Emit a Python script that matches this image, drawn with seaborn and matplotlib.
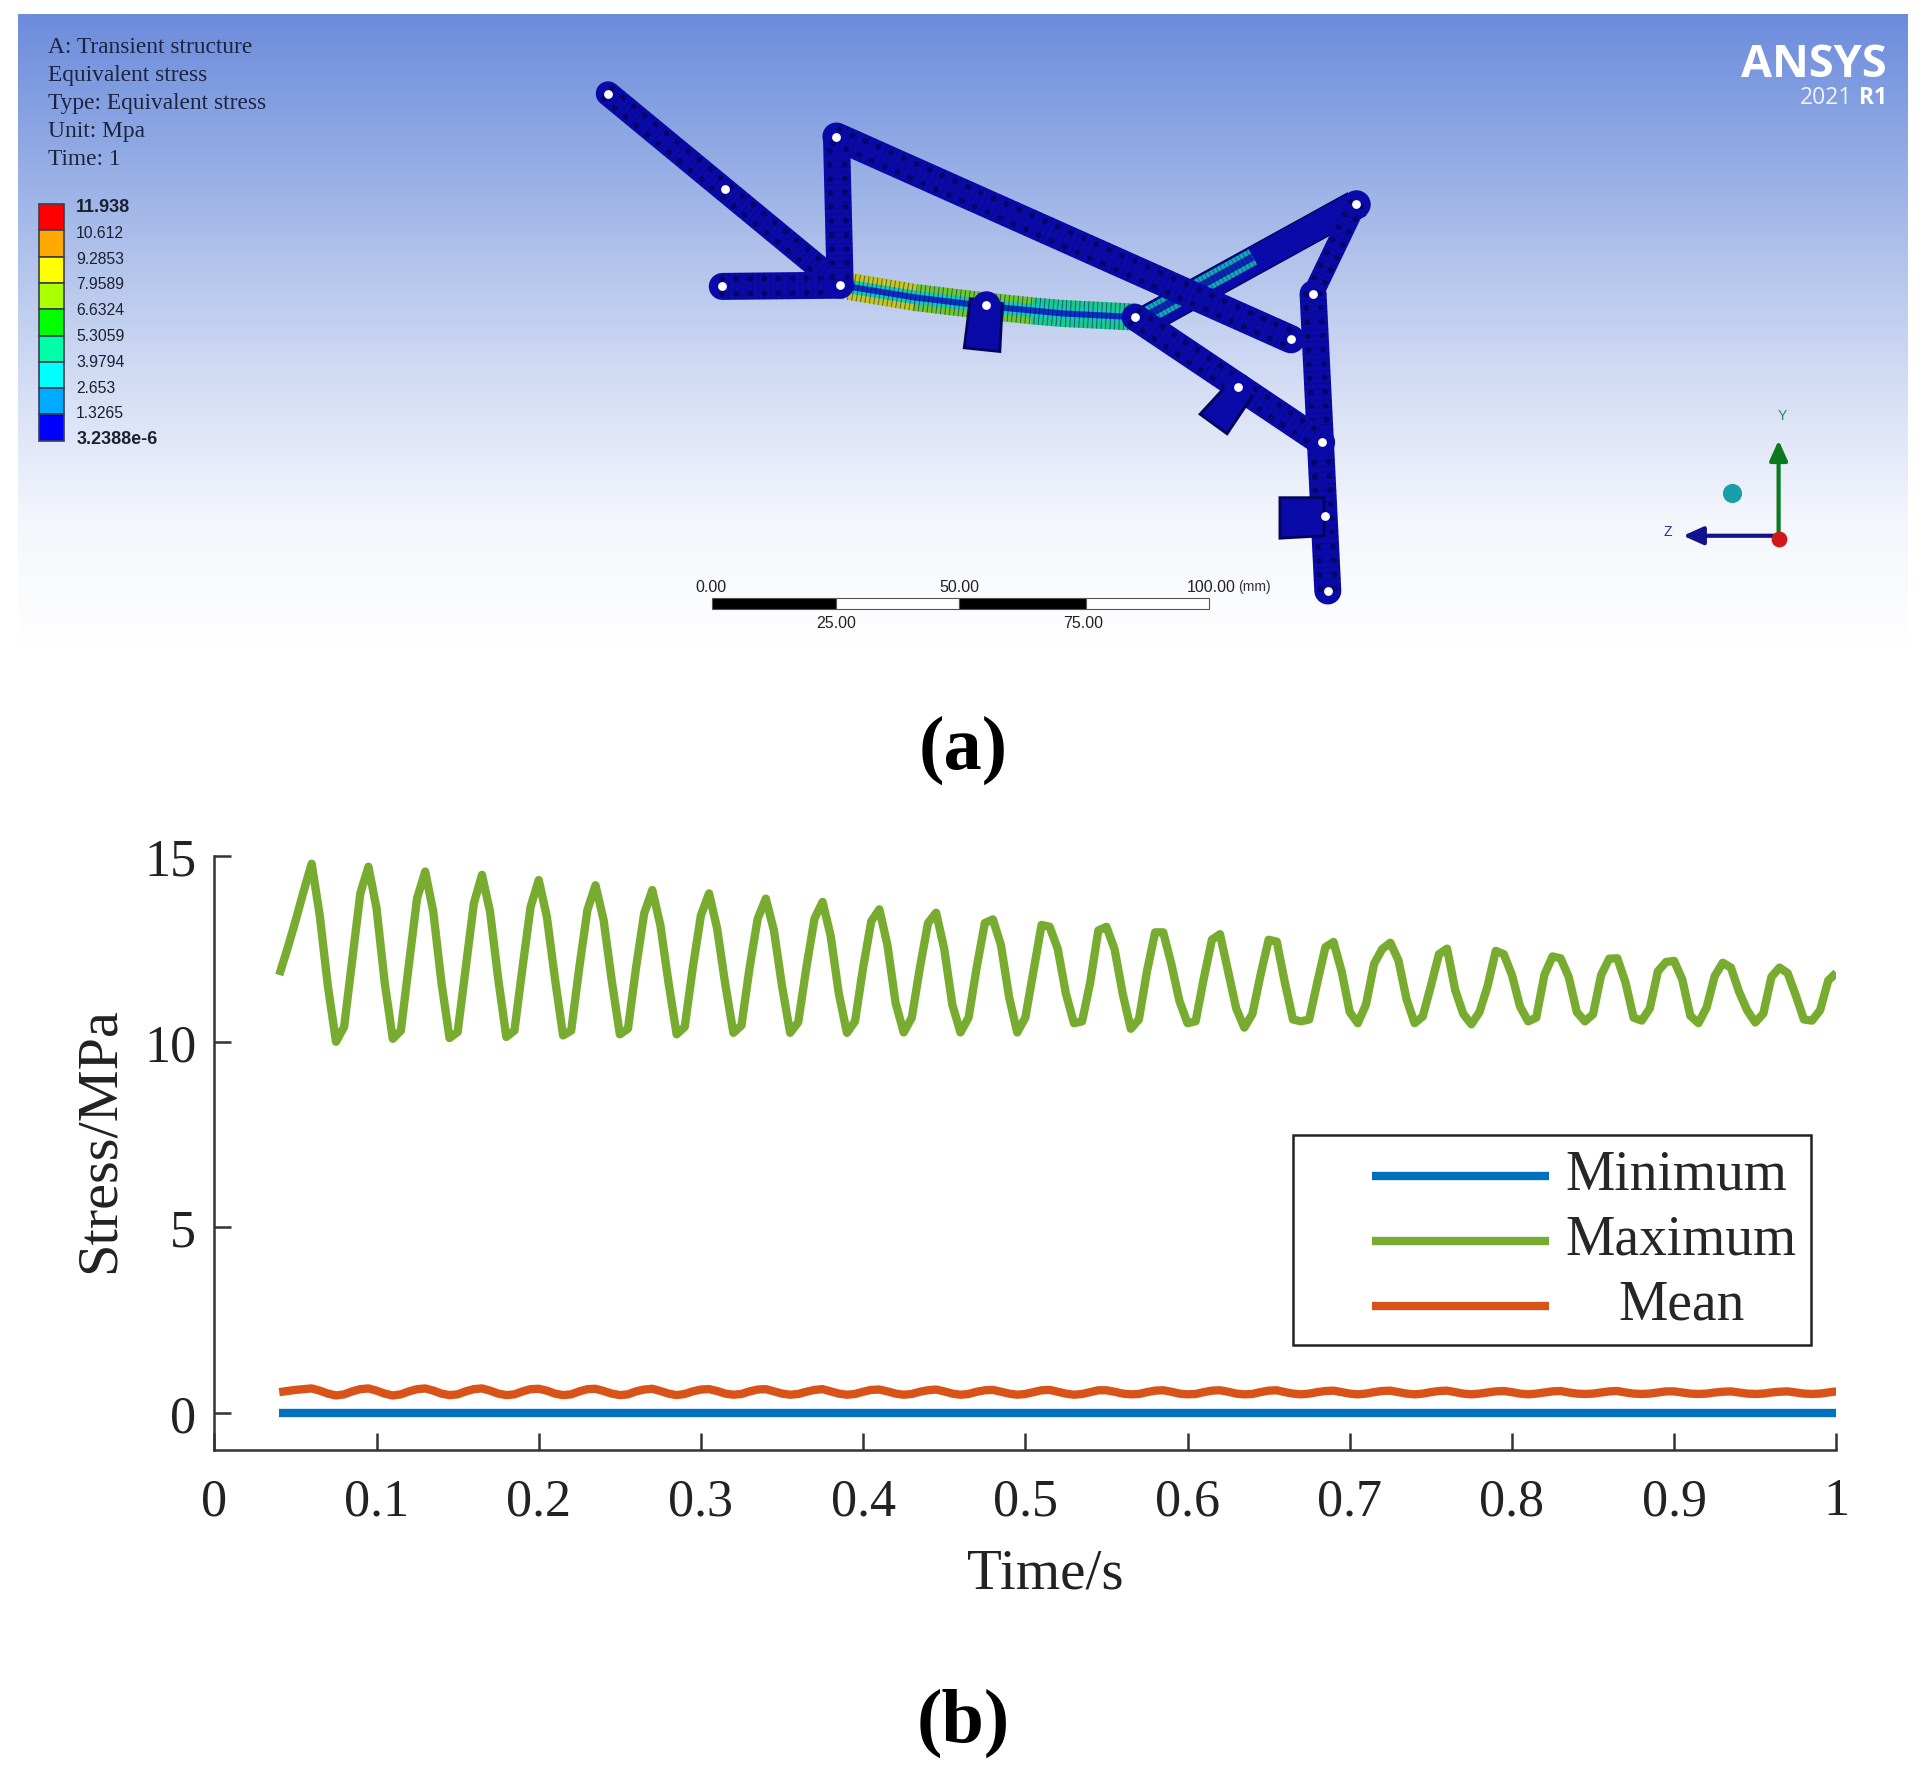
# -*- coding: utf-8 -*-
"""
Stress results: ANSYS contour view (a) and stress against time (b)
"""
import matplotlib
matplotlib.use("Agg")
import numpy as np
import pandas as pd
import seaborn as sns
import matplotlib.pyplot as plt
from matplotlib.colors import LinearSegmentedColormap
from matplotlib.legend_handler import HandlerLine2D
from matplotlib.lines import Line2D
from matplotlib.patches import Polygon, Rectangle

# ---- panel (b) data
time_s = [0.04, 0.045, 0.05, 0.055,
          0.06, 0.065, 0.07, 0.075, 0.08, 0.085, 0.09,
          0.095, 0.1, 0.105, 0.11, 0.115, 0.12, 0.125,
          0.13, 0.135, 0.14, 0.145, 0.15, 0.155, 0.16,
          0.165, 0.17, 0.175, 0.18, 0.185, 0.19, 0.195,
          0.2, 0.205, 0.21, 0.215, 0.22, 0.225, 0.23,
          0.235, 0.24, 0.245, 0.25, 0.255, 0.26, 0.265,
          0.27, 0.275, 0.28, 0.285, 0.29, 0.295, 0.3,
          0.305, 0.31, 0.315, 0.32, 0.325, 0.33, 0.335,
          0.34, 0.345, 0.35, 0.355, 0.36, 0.365, 0.37,
          0.375, 0.38, 0.385, 0.39, 0.395, 0.4, 0.405,
          0.41, 0.415, 0.42, 0.425, 0.43, 0.435, 0.44,
          0.445, 0.45, 0.455, 0.46, 0.465, 0.47, 0.475,
          0.48, 0.485, 0.49, 0.495, 0.5, 0.505, 0.51,
          0.515, 0.52, 0.525, 0.53, 0.535, 0.54, 0.545,
          0.55, 0.555, 0.56, 0.565, 0.57, 0.575, 0.58,
          0.585, 0.59, 0.595, 0.6, 0.605, 0.61, 0.615,
          0.62, 0.625, 0.63, 0.635, 0.64, 0.645, 0.65,
          0.655, 0.66, 0.665, 0.67, 0.675, 0.68, 0.685,
          0.69, 0.695, 0.7, 0.705, 0.71, 0.715, 0.72,
          0.725, 0.73, 0.735, 0.74, 0.745, 0.75, 0.755,
          0.76, 0.765, 0.77, 0.775, 0.78, 0.785, 0.79,
          0.795, 0.8, 0.805, 0.81, 0.815, 0.82, 0.825,
          0.83, 0.835, 0.84, 0.845, 0.85, 0.855, 0.86,
          0.865, 0.87, 0.875, 0.88, 0.885, 0.89, 0.895,
          0.9, 0.905, 0.91, 0.915, 0.92, 0.925, 0.93,
          0.935, 0.94, 0.945, 0.95, 0.955, 0.96, 0.965,
          0.97, 0.975, 0.98, 0.985, 0.99, 0.995, 1.0]

max_stress = [11.80, 12.50, 13.25, 14.05,
              14.80, 13.40, 11.50, 10.00, 10.40, 12.20, 14.00,
              14.72, 13.60, 11.60, 10.08, 10.30, 12.10, 13.87,
              14.59, 13.50, 11.60, 10.10, 10.26, 12.00, 13.73,
              14.50, 13.50, 11.70, 10.13, 10.30, 12.00, 13.64,
              14.36, 13.37, 11.70, 10.17, 10.30, 12.00, 13.55,
              14.22, 13.28, 11.65, 10.20, 10.35, 12.00, 13.46,
              14.09, 13.14, 11.60, 10.20, 10.40, 12.00, 13.41,
              14.00, 13.05, 11.55, 10.24, 10.44, 12.00, 13.32,
              13.86, 13.00, 11.50, 10.24, 10.53, 12.00, 13.32,
              13.77, 12.85, 11.30, 10.24, 10.55, 12.00, 13.25,
              13.57, 12.60, 11.05, 10.25, 10.65, 12.00, 13.20,
              13.48, 12.50, 11.00, 10.25, 10.65, 12.00, 13.20,
              13.30, 12.60, 11.20, 10.25, 10.65, 11.90, 13.15,
              13.10, 12.50, 11.30, 10.50, 10.55, 11.60, 13.00,
              13.10, 12.50, 11.30, 10.35, 10.60, 11.90, 12.95,
              12.95, 12.10, 11.10, 10.50, 10.55, 11.70, 12.75,
              12.90, 11.90, 10.90, 10.38, 10.75, 11.80, 12.75,
              12.70, 11.60, 10.60, 10.55, 10.60, 11.60, 12.55,
              12.69, 11.90, 10.80, 10.50, 11.00, 12.10, 12.50,
              12.67, 12.20, 11.15, 10.50, 10.68, 11.50, 12.36,
              12.51, 11.40, 10.75, 10.47, 10.80, 11.50, 12.45,
              12.36, 11.80, 10.95, 10.55, 10.65, 11.80, 12.30,
              12.25, 11.75, 10.80, 10.55, 10.74, 11.80, 12.24,
              12.25, 11.60, 10.65, 10.57, 10.90, 11.90, 12.15,
              12.18, 11.68, 10.70, 10.50, 10.92, 11.77, 12.13,
              12.00, 11.35, 10.85, 10.52, 10.76, 11.75, 12.00,
              11.85, 11.25, 10.60, 10.57, 10.85, 11.65, 11.86]

mean_stress = [0.55, 0.58, 0.61, 0.63,
               0.65, 0.59, 0.51, 0.46, 0.49, 0.57, 0.63,
               0.65, 0.59, 0.51, 0.46, 0.49, 0.57, 0.63,
               0.65, 0.59, 0.51, 0.47, 0.49, 0.57, 0.63,
               0.65, 0.59, 0.51, 0.47, 0.49, 0.57, 0.63,
               0.64, 0.59, 0.51, 0.47, 0.49, 0.57, 0.63,
               0.64, 0.58, 0.51, 0.47, 0.49, 0.57, 0.62,
               0.64, 0.58, 0.51, 0.47, 0.50, 0.57, 0.62,
               0.63, 0.58, 0.51, 0.48, 0.50, 0.57, 0.62,
               0.63, 0.57, 0.51, 0.48, 0.50, 0.56, 0.61,
               0.63, 0.57, 0.51, 0.48, 0.50, 0.56, 0.61,
               0.62, 0.57, 0.51, 0.48, 0.50, 0.56, 0.60,
               0.62, 0.57, 0.51, 0.48, 0.50, 0.56, 0.60,
               0.61, 0.56, 0.51, 0.48, 0.50, 0.55, 0.60,
               0.61, 0.56, 0.51, 0.48, 0.50, 0.55, 0.60,
               0.60, 0.56, 0.51, 0.49, 0.50, 0.55, 0.59,
               0.60, 0.56, 0.51, 0.49, 0.50, 0.55, 0.59,
               0.60, 0.56, 0.51, 0.49, 0.50, 0.55, 0.59,
               0.60, 0.55, 0.51, 0.49, 0.51, 0.55, 0.58,
               0.59, 0.55, 0.51, 0.49, 0.51, 0.55, 0.58,
               0.59, 0.55, 0.51, 0.49, 0.51, 0.55, 0.58,
               0.59, 0.55, 0.51, 0.49, 0.51, 0.54, 0.57,
               0.58, 0.55, 0.51, 0.49, 0.51, 0.54, 0.57,
               0.58, 0.54, 0.51, 0.50, 0.51, 0.54, 0.57,
               0.58, 0.54, 0.51, 0.50, 0.51, 0.54, 0.57,
               0.57, 0.54, 0.51, 0.50, 0.51, 0.54, 0.56,
               0.57, 0.54, 0.51, 0.50, 0.51, 0.54, 0.56,
               0.57, 0.54, 0.51, 0.50, 0.51, 0.54, 0.57]

min_time = [0.04, 1.0]
min_stress = [0.0, 0.0]

x_ticks = [0, 0.1, 0.2, 0.3, 0.4, 0.5, 0.6, 0.7, 0.8, 0.9, 1]
x_tick_labels = ["0", "0.1", "0.2", "0.3", "0.4", "0.5", "0.6", "0.7", "0.8", "0.9", "1"]
y_ticks = [0, 5, 10, 15]
series_names = ["Minimum", "Maximum", "Mean"]
series_colors = ["#0072BD", "#77AC30", "#D95319"]

# ---- panel (a) content
info_lines = ["A: Transient structure", "Equivalent stress", "Type: Equivalent stress",
              "Unit: Mpa", "Time: 1"]
contour_labels = ["11.938", "10.612", "9.2853", "7.9589", "6.6324", "5.3059",
                  "3.9794", "2.653", "1.3265", "3.2388e-6"]
contour_colors = ["#ff0000", "#ffaa00", "#ffff00", "#aaff00", "#00ff00",
                  "#00ffaa", "#00ffff", "#00aaff", "#0000ff"]
scale_top = ["0.00", "50.00", "100.00"]
scale_bottom = ["25.00", "75.00"]

# mechanism geometry, in px of a 1568 wide sheet
links = [([495, 684], [77, 233], 20),
         ([588, 684], [234, 233], 22),
         ([681, 684], [112, 233], 22),
         ([681, 1051], [112, 277], 23),
         ([1104, 1069], [167, 240], 17),
         ([1069, 1081], [240, 482], 22),
         ([924, 1076], [259, 361], 22)]
curved_link = ([684, 745, 803, 865, 924], [233, 243, 250, 256, 259])
curved_pieces = [([692, 745], [234, 243], "#c4c81e"),
                 ([745, 803, 840], [243, 250, 254], "#6ec82c"),
                 ([840, 865, 925], [254, 256, 259], "#1cc88c")]
thin_outline = [(1097, 158), (1112, 176), (945, 268), (930, 250)]
tabs = [[(790, 244), (816, 248), (814, 287), (785, 284)],
        [(1001, 312), (1019, 324), (999, 354), (977, 338)],
        [(1042, 406), (1078, 406), (1078, 437), (1042, 439)]]
hole_x = [495, 590, 684, 588, 681, 1051, 1104, 1069, 924, 803, 1008, 1076, 1079, 1081]
hole_y = [77, 155, 233, 234, 112, 277, 167, 240, 259, 249, 316, 361, 421, 482]

sns.set_theme(style="ticks")
plt.rcParams["font.family"] = ["Liberation Serif", "DejaVu Serif"]

fig = plt.figure(figsize=(19.26, 17.81), dpi=100, facecolor="white")

# ---- (a) sheet axes
sheet = fig.add_axes([0, 0, 1, 1])
ramp = LinearSegmentedColormap.from_list(
    "ansys", ["#6c8cdc", "#8fa8e4", "#b4c5ec", "#d6dff5", "#f4f6fc", "#ffffff"])
sheet.imshow(np.linspace(0, 1, 256).reshape(-1, 1), cmap=ramp, aspect="auto",
             extent=(15, 1553, 528, 12), zorder=0)
sheet.set_xlim(0, 1568)
sheet.set_ylim(1450, 0)
sheet.axis("off")

PT = 0.884  # sheet px to points
NAVY = "#0a0aa8"
DARK = "#04045c"


def draw_mesh(xs, ys, width):
    # dark mesh nodes along the link, two rows either side of the centre line
    xs, ys = np.asarray(xs, float), np.asarray(ys, float)
    nx, ny = -(ys[-1] - ys[0]), xs[-1] - xs[0]
    size = np.hypot(nx, ny)
    nx, ny = nx / size, ny / size
    for off in (-0.27, 0.27):
        sheet.plot(xs + nx * off * width, ys + ny * off * width, color=DARK, lw=4.2,
                   ls=(0, (0.01, 2.4)), dash_capstyle="round", alpha=0.8, zorder=3)


def draw_link(xs, ys, width):
    sheet.plot(xs, ys, color=NAVY, lw=width * PT, solid_capstyle="round", zorder=3)
    sheet.plot(xs, ys, color=DARK, lw=width * PT, ls=(0, (0.04, 0.18)),
               alpha=0.3, zorder=3)
    draw_mesh(xs, ys, width)


# thin link, tapering to the joint
sheet.add_patch(Polygon(thin_outline, closed=True, facecolor=NAVY, edgecolor=DARK, lw=1, zorder=3))
sheet.scatter([1104], [167], s=420, color=NAVY, linewidths=0, zorder=3)
sheet.plot([935, 1020], [257, 210], color="#14a8b4", lw=14 * PT, solid_capstyle="butt", zorder=3)
sheet.plot([935, 1020], [257, 210], color="#0a28b0", lw=6 * PT, solid_capstyle="butt", zorder=3)
sheet.plot([935, 1020], [257, 210], color=DARK, lw=14 * PT, ls=(0, (0.05, 0.2)), alpha=0.45, zorder=3)

# stressed link, edges hot and the core cold
for xs, ys, col in curved_pieces:
    sheet.plot(xs, ys, color=col, lw=22 * PT, solid_capstyle="butt", zorder=3)
sheet.plot(*curved_link, color="#18c8b0", lw=11 * PT, solid_capstyle="butt", zorder=3)
sheet.plot(*curved_link, color="#0a30c4", lw=5 * PT, solid_capstyle="butt", zorder=3)
sheet.plot(*curved_link, color=DARK, lw=22 * PT, ls=(0, (0.035, 0.13)), alpha=0.55, zorder=3)

for tab in tabs:
    sheet.add_patch(Polygon(tab, closed=True, facecolor=NAVY, edgecolor=DARK, lw=2, zorder=4))
sheet.scatter([803, 1008], [249, 316], s=420, color=NAVY, linewidths=0, zorder=4)
for xs, ys, width in links:
    draw_link(xs, ys, width)
sheet.scatter(hole_x, hole_y, s=40, color="white", linewidths=0, zorder=5)

for i, line in enumerate(info_lines):
    sheet.text(39, 38.5 + i * 22.8, line, fontsize=16.8, color="#1c2440", va="center", zorder=6)

bar_top = 167
bar_step = 21.4
for i, col in enumerate(contour_colors):
    sheet.add_patch(Rectangle((32, bar_top + i * bar_step), 20, bar_step, facecolor=col,
                              edgecolor="#3c3c50", lw=1.2, zorder=6))
for i, lab in enumerate(contour_labels):
    bold = i in (0, len(contour_labels) - 1)
    sheet.text(62, 169 + i * 21.0, lab, fontsize=13 if bold else 11.3, color="#1c2030",
               family="Liberation Sans", weight="bold" if bold else "normal",
               va="center", zorder=6)

sheet.text(1477, 53, "ANSYS", fontsize=32.5, family="Open Sans", weight="bold",
           color="white", ha="center", va="center", zorder=6)
sheet.text(1508, 80, "2021", fontsize=16.5, family="Open Sans", color="#f0f3fc",
           ha="right", va="center", zorder=6)
sheet.text(1536, 80, "R1", fontsize=16.5, family="Open Sans", weight="bold", color="white",
           ha="right", va="center", zorder=6)

# scale bar
for x0, x1, col in [(580, 681, "black"), (681, 781, "white"), (781, 884, "black"), (884, 984, "white")]:
    sheet.add_patch(Rectangle((x0, 488), x1 - x0, 9, facecolor=col, edgecolor="#555555", lw=0.8, zorder=6))
for x, lab in zip([579, 781, 986], scale_top):
    sheet.text(x, 478, lab, fontsize=11.5, family="Liberation Sans", color="#222222",
               ha="center", va="center", zorder=6)
sheet.text(1021, 478, "(mm)", fontsize=10, family="Liberation Sans", color="#333333",
           ha="center", va="center", zorder=6)
for x, lab in zip([681, 882], scale_bottom):
    sheet.text(x, 508, lab, fontsize=11.5, family="Liberation Sans", color="#222222",
               ha="center", va="center", zorder=6)

# triad
sheet.annotate("", xy=(1448, 357), xytext=(1448, 440), zorder=6,
               arrowprops=dict(arrowstyle="-|>,head_width=0.45,head_length=1.0", color="#0a7a1e", lw=3))
sheet.annotate("", xy=(1368, 437), xytext=(1448, 437), zorder=6,
               arrowprops=dict(arrowstyle="-|>,head_width=0.45,head_length=1.0", color="#12128c", lw=3))
sheet.scatter([1448], [440], s=130, color="#d01818", linewidths=0, zorder=7)
sheet.scatter([1410], [402], s=190, color="#18a0a8", linewidths=0, zorder=7)
sheet.text(1451, 339, "Y", fontsize=10, family="Liberation Sans", color="#2a8a5a",
           ha="center", va="center", zorder=6)
sheet.text(1358, 433, "Z", fontsize=10, family="Liberation Sans", color="#2a2aa0",
           ha="center", va="center", zorder=6)

sheet.text(784, 611, "(a)", fontsize=55, weight="bold", color="black", ha="center", va="center")
sheet.text(784, 1403, "(b)", fontsize=55, weight="bold", color="black", ha="center", va="center")

# ---- (b) stress against time
left, right = 174.5 / 1568, 1495 / 1568
top, bottom = 698 / 1450, 1181 / 1450
ax = fig.add_axes([left, 1 - bottom, right - left, bottom - top], facecolor="none")

df = pd.concat([
    pd.DataFrame({"Time": min_time, "Stress": min_stress, "series": series_names[0]}),
    pd.DataFrame({"Time": time_s, "Stress": max_stress, "series": series_names[1]}),
    pd.DataFrame({"Time": time_s, "Stress": mean_stress, "series": series_names[2]}),
], ignore_index=True)
sns.lineplot(data=df, x="Time", y="Stress", hue="series", hue_order=series_names,
             palette=series_colors, estimator=None, sort=False, lw=6,
             solid_capstyle="butt", ax=ax, legend=True)

ax.set_xlim(0, 1)
ax.set_ylim(-1, 15)
ax.set_xticks(x_ticks)
ax.set_xticklabels(x_tick_labels)
ax.set_yticks(y_ticks)
ax.tick_params(axis="both", direction="in", length=12, width=1.8, color="#333333",
               labelsize=37.5, labelcolor="#222222", pad=20)
ax.tick_params(axis="y", pad=13)
for side in ["top", "right"]:
    ax.spines[side].set_visible(False)
for side in ["left", "bottom"]:
    ax.spines[side].set_linewidth(1.8)
    ax.spines[side].set_color("#333333")
ax.set_xlabel("Time/s", fontsize=41, color="#222222")
ax.set_ylabel("Stress/MPa", fontsize=42, color="#222222")
ax.xaxis.set_label_coords((851 - 174.5) / 1320.5, -0.165)
ax.yaxis.set_label_coords(-0.055, (1181 - 928) / 483)

handles, labels = ax.get_legend_handles_labels()
leg = ax.legend(handles, labels, loc="upper left", bbox_to_anchor=(0.665, 0.531),
                fontsize=40, frameon=True, fancybox=False, framealpha=1,
                edgecolor="#222222", borderaxespad=0, borderpad=0.255, labelspacing=0.234,
                handlelength=4.35, handletextpad=0.3,
                handler_map={Line2D: HandlerLine2D(xpad=1.16)})
leg.get_frame().set_linewidth(1.8)
# Mean sits centred under the longer names, handles sit a little lower than the text
leg.get_texts()[2].set_x(53)
for line in leg.get_lines():
    line.set_ydata(np.asarray(line.get_ydata()) - 5)

fig.savefig("out.png", dpi=100, facecolor="white")
